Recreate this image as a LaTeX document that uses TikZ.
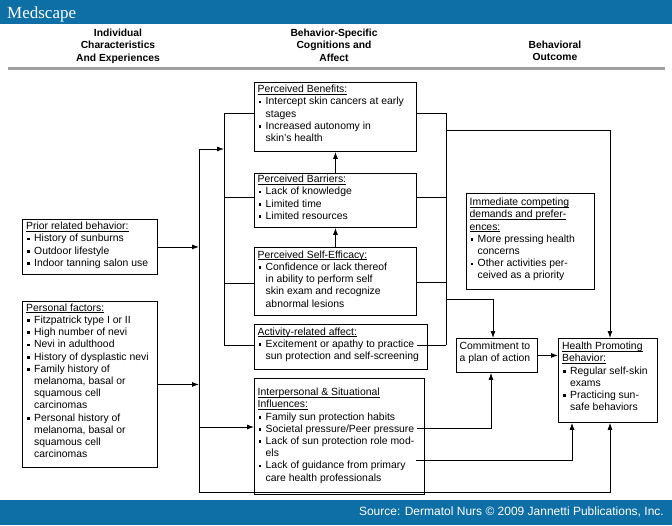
\documentclass[tikz,border=0pt]{standalone}
\usepackage{fontspec}
\setmainfont{Liberation Sans}
\newfontfamily\logofont{Liberation Serif}
\usetikzlibrary{arrows.meta}
\definecolor{msblue}{RGB}{14,110,166}
\newcommand{\bu}{\makebox[8pt][l]{\hspace{1pt}\rule[1.5pt]{2.7pt}{2.7pt}}}
\newcommand{\ii}{\hspace*{8pt}}
\newcommand{\uln}[1]{\setbox0\hbox{#1}\rlap{\rule[-1.8pt]{\wd0}{0.6pt}}\box0}
\begin{document}
\begin{tikzpicture}[x=1pt,y=-1pt,
 bx/.style={draw=black, line width=0.9pt, inner sep=0pt, anchor=north west},
 txt/.style={anchor=north west, inner sep=0pt, align=left, font=\fontsize{10.4}{12.2}\selectfont},
 ln/.style={draw=black, line width=0.85pt},
 arr/.style={ln, -{Latex[length=7pt,width=5pt]}},
 hd/.style={align=center, font=\fontsize{10.3}{12.5}\selectfont\bfseries, anchor=north, inner sep=0pt}]
\useasboundingbox (0,0) rectangle (672,525);
\fill[white] (0,0) rectangle (672,525);
% header and footer
\fill[msblue] (0,0) rectangle (672,24);
\fill[msblue] (0,500) rectangle (672,525);
\node[anchor=base west, inner sep=0pt, text=white, font=\logofont\fontsize{17}{17}\selectfont] (logo) at (7,18) {Medscape};
\node[anchor=base east, inner sep=0pt, text=white, font=\fontsize{12}{12}\selectfont] (src) at (664,515) {Source: Dermatol Nurs \textcopyright{} 2009 Jannetti Publications, Inc.};
% column headings
\node[hd] (h1) at (118,28.5) {Individual\\Characteristics\\And Experiences};
\node[hd] (h2) at (334,28.5) {Behavior-Specific\\Cognitions and\\Affect};
\node[hd] (h3) at (555,40.5) {Behavioral\\Outcome};
\draw[gray!75, line width=2.4pt] (8,68.5) -- (665,68.5);
% boxes
\node[bx, minimum width=135pt, minimum height=55pt] (prior) at (22,219) {};
\node[bx, minimum width=135pt, minimum height=166pt] (pers) at (22,301) {};
\node[bx, minimum width=162pt, minimum height=69pt] (ben) at (254,82) {};
\node[bx, minimum width=162pt, minimum height=54pt] (bar) at (254,173) {};
\node[bx, minimum width=162pt, minimum height=68pt] (eff) at (254,247) {};
\node[bx, minimum width=173pt, minimum height=45pt] (act) at (254,324) {};
\node[bx, minimum width=170pt, minimum height=116pt] (inter) at (254,378) {};
\node[bx, minimum width=128pt, minimum height=96pt] (imm) at (466,193) {};
\node[bx, minimum width=81pt, minimum height=34pt] (com) at (456,338) {};
\node[bx, minimum width=99pt, minimum height=84pt] (hpb) at (558,338) {};
% box texts
\node[txt] (priort) at ([xshift=4pt,yshift=-3pt]prior.north west) {\uln{Prior related behavior:}\\\bu History of sunburns\\\bu Outdoor lifestyle\\\bu Indoor tanning salon use};
\node[txt] (perst) at ([xshift=4pt,yshift=-2.5pt]pers.north west) {\uln{Personal factors:}\\\bu Fitzpatrick type I or II\\\bu High number of nevi\\\bu Nevi in adulthood\\\bu History of dysplastic nevi\\\bu Family history of\\\ii melanoma, basal or\\\ii squamous cell\\\ii carcinomas\\\bu Personal history of\\\ii melanoma, basal or\\\ii squamous cell\\\ii carcinomas};
\node[txt] (bent) at ([xshift=3.5pt,yshift=-3pt]ben.north west) {\uln{Perceived Benefits:}\\\bu Intercept skin cancers at early\\\ii stages\\\bu Increased autonomy in\\\ii skin's health};
\node[txt] (bart) at ([xshift=3.5pt,yshift=-2pt]bar.north west) {\uln{Perceived Barriers:}\\\bu Lack of knowledge\\\bu Limited time\\\bu Limited resources};
\node[txt] (efft) at ([xshift=3.5pt,yshift=-3.5pt]eff.north west) {\uln{Perceived Self-Efficacy:}\\\bu Confidence or lack thereof\\\ii in ability to perform self\\\ii skin exam and recognize\\\ii abnormal lesions};
\node[txt] (actt) at ([xshift=3.5pt,yshift=-3.5pt]act.north west) {\uln{Activity-related affect:}\\\bu Excitement or apathy to practice\\\ii sun protection and self-screening};
\node[txt] (intert) at ([xshift=3.5pt,yshift=-10pt]inter.north west) {\uln{Interpersonal \& Situational}\\\uln{Influences:}\\\bu Family sun protection habits\\\bu Societal pressure/Peer pressure\\\bu Lack of sun protection role mod-\\\ii els\\\bu Lack of guidance from primary\\\ii care health professionals};
\node[txt] (immt) at ([xshift=3.5pt,yshift=-5pt]imm.north west) {\uln{Immediate competing}\\\uln{demands and prefer-}\\\uln{ences:}\\\bu More pressing health\\\ii concerns\\\bu Other activities per-\\\ii ceived as a priority};
\node[txt] (comt) at ([xshift=3.5pt,yshift=-3.5pt]com.north west) {Commitment to\\a plan of action};
\node[txt] (hpbt) at ([xshift=4pt,yshift=-4pt]hpb.north west) {\uln{Health Promoting}\\\uln{Behavior:}\\\bu Regular self-skin\\\ii exams\\\bu Practicing sun-\\\ii safe behaviors};
% spine coordinates
\coordinate (s1t) at (199,149);
\coordinate (s1b) at (199,492);
\coordinate (s1i) at (199,427);
\coordinate (s2t) at (224,113);
\coordinate (s2a) at (224,197);
\coordinate (s2b) at (224,283);
\coordinate (s2c) at (224,345);
\coordinate (rt) at (446,113);
\coordinate (ra) at (446,197);
\coordinate (rb) at (446,282);
\coordinate (rc) at (446,345);
\coordinate (rh) at (446,130);
\coordinate (rm) at (446,299);
\coordinate (actout) at (417,345);
\coordinate (socout) at (417,428);
\coordinate (guiout) at (416,460);
\coordinate (hx) at (610,0);
\coordinate (cx) at (493,0);
\coordinate (cx2) at (491,0);
\coordinate (gx) at (572,0);
% left spine
\draw[ln] (s1t) -- (s1b);
\draw[arr] (prior.east) -- (prior.east -| s1t);
\draw[arr] (pers.east) -- (pers.east -| s1t);
\draw[arr] (s1t) -- (s1t -| s2t);
\draw[arr] (s1i) -- (s1i -| inter.west);
% second spine
\draw[ln] (s2t) -- (s2c);
\draw[ln] (s2t) -- (s2t -| ben.west);
\draw[ln] (s2a) -- (s2a -| bar.west);
\draw[ln] (s2b) -- (s2b -| eff.west);
\draw[ln] (s2c) -- (s2c -| act.west);
% vertical arrows between middle boxes
\draw[arr] (bar.north) -- (ben.south);
\draw[arr] (eff.north) -- (bar.south);
% right spine
\draw[ln] (rt) -- (rc);
\draw[ln] (rt -| ben.east) -- (rt);
\draw[ln] (ra -| bar.east) -- (ra);
\draw[ln] (rb -| eff.east) -- (rb);
\draw[ln] (actout) -- (rc);
\draw[arr] (rh) -- (rh -| hx) -- (hx |- hpb.north);
\draw[arr] (rm) -- (rm -| cx) -- (cx |- com.north);
\draw[arr] (com.east) -- (com.east -| hpb.west);
% interpersonal outputs
\draw[arr] (socout) -- (socout -| cx2) -- (cx2 |- com.south);
\draw[arr] (guiout) -- (guiout -| gx) -- (gx |- hpb.south);
% bottom line
\draw[arr] (s1b) -- (s1b -| hx) -- (hx |- hpb.south);
\end{tikzpicture}
\end{document}
